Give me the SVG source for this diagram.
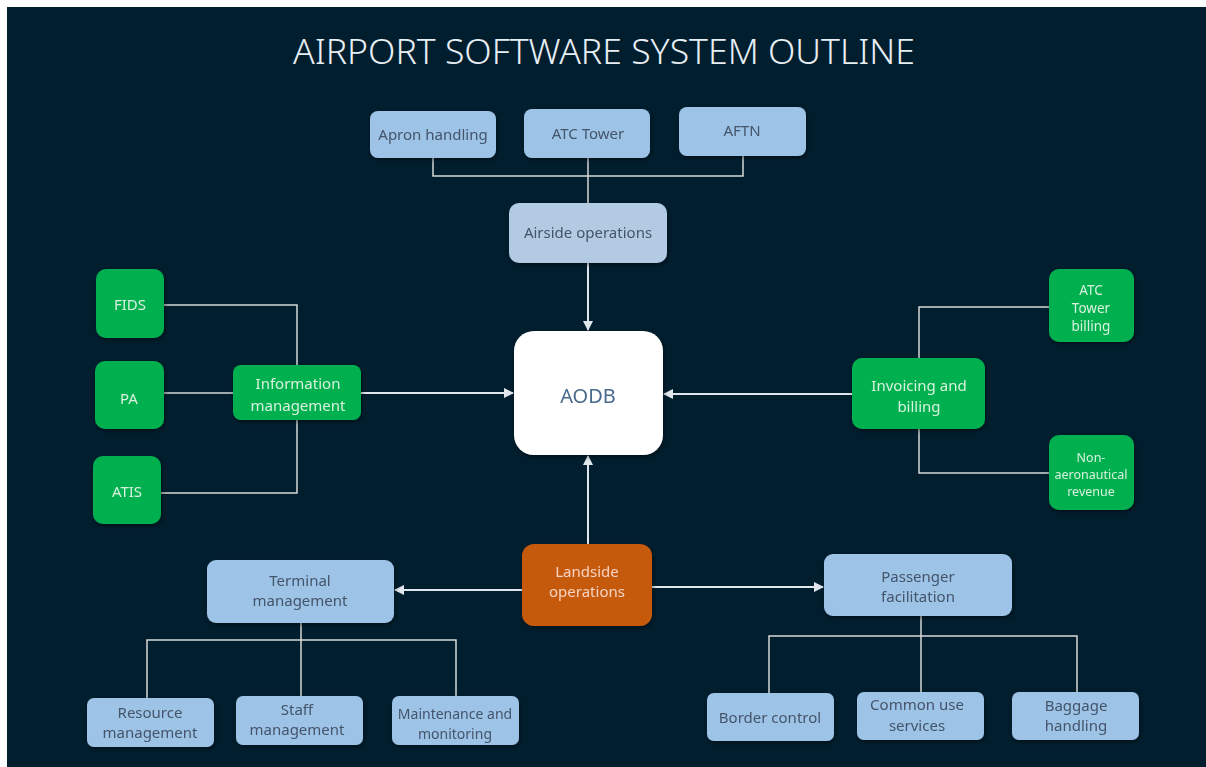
<svg xmlns="http://www.w3.org/2000/svg" width="1206" height="767" viewBox="0 0 1206 767">
<style>
.bg{fill:#011e2e}
.blue{fill:#9dc3e6}
.air{fill:#b3cbe2}
.green{fill:#00b050}
.orange{fill:#c55a11}
.white{fill:#ffffff}
text{font-family:"Noto Sans","Liberation Sans",sans-serif;text-anchor:middle;font-size:15px}
.tb{fill:#44546a}
.tg{fill:#d8f1de}
.to{fill:#f6d3c1}
.ta{fill:#4a6a8e;font-size:20px}
.title{fill:#e8eef4;font-size:34px;font-weight:300}
.ln{stroke:#d9d9d9;stroke-width:1.5;fill:none}
.ar{stroke:#e0e6ec;stroke-width:2;fill:none;marker-end:url(#ah)}
.n{filter:url(#sh)}
</style>
<defs>
<marker id="ah" viewBox="0 0 10 10" refX="9" refY="5" markerWidth="5" markerHeight="5" orient="auto" markerUnits="strokeWidth">
<path d="M0,0 L10,5 L0,10 z" fill="#e0e6ec"/>
</marker>
<filter id="sh" x="-10%" y="-10%" width="125%" height="130%">
<feDropShadow dx="1" dy="2" stdDeviation="2" flood-color="#000" flood-opacity="0.45"/>
</filter>
</defs>
<rect x="0" y="0" width="1206" height="767" fill="#ffffff"/>
<rect class="bg" x="7" y="7" width="1199" height="760"/>
<text class="title" x="604" y="64" textLength="622" lengthAdjust="spacingAndGlyphs">AIRPORT SOFTWARE SYSTEM OUTLINE</text>

<g id="connectors">
<path class="ln" d="M433,158 V176 H743 V156"/>
<path class="ln" d="M588,158 V203"/>
<path class="ar" d="M588,263 V330"/>
<path class="ln" d="M164,305 H297 V365"/>
<path class="ln" d="M164,393 H233"/>
<path class="ln" d="M161,493 H297 V420"/>
<path class="ar" d="M361,393 H513"/>
<path class="ar" d="M852,394 H664"/>
<path class="ln" d="M1049,307 H919 V358"/>
<path class="ln" d="M919,429 V473 H1049"/>
<path class="ar" d="M588,544 V456"/>
<path class="ar" d="M522,590 H395"/>
<path class="ar" d="M652,587 H823"/>
<path class="ln" d="M301,623 V697"/>
<path class="ln" d="M147,698 V640 H456 V696"/>
<path class="ln" d="M921,616 V692"/>
<path class="ln" d="M769,693 V636 H1077 V692"/>
</g>

<g id="apron" class="n"><rect class="blue" x="370" y="111" width="126" height="47" rx="8"/><text class="tb" x="433" y="140">Apron handling</text></g>
<g id="atc-tower" class="n"><rect class="blue" x="524" y="109" width="126" height="49" rx="8"/><text class="tb" x="588" y="139">ATC Tower</text></g>
<g id="aftn" class="n"><rect class="blue" x="679" y="107" width="127" height="49" rx="8"/><text class="tb" x="742" y="136">AFTN</text></g>
<g id="airside" class="n"><rect class="air" x="509" y="203" width="158" height="60" rx="10"/><text class="tb" x="588" y="238">Airside operations</text></g>
<g id="aodb" class="n"><rect class="white" x="514" y="331" width="149" height="124" rx="20"/><text class="ta" x="588" y="403">AODB</text></g>

<g id="fids" class="n"><rect class="green" x="96" y="269" width="68" height="69" rx="10"/><text class="tg" x="130" y="310">FIDS</text></g>
<g id="pa" class="n"><rect class="green" x="95" y="361" width="69" height="68" rx="10"/><text class="tg" x="129" y="404">PA</text></g>
<g id="atis" class="n"><rect class="green" x="93" y="456" width="68" height="68" rx="10"/><text class="tg" x="127" y="497">ATIS</text></g>
<g id="info" class="n"><rect class="green" x="233" y="365" width="128" height="55" rx="8"/><text class="tg" x="298" y="389">Information</text><text class="tg" x="298" y="411">management</text></g>

<g id="invoicing" class="n"><rect class="green" x="852" y="358" width="133" height="71" rx="10"/><text class="tg" x="919" y="391">Invoicing and</text><text class="tg" x="919" y="412">billing</text></g>
<g id="atc-billing" class="n"><rect class="green" x="1049" y="269" width="85" height="73" rx="10"/><text class="tg" x="1091" y="295" style="font-size:13.5px">ATC</text><text class="tg" x="1091" y="313" style="font-size:13.5px">Tower</text><text class="tg" x="1091" y="331" style="font-size:13.5px">billing</text></g>
<g id="non-aero" class="n"><rect class="green" x="1049" y="435" width="85" height="75" rx="10"/><text class="tg" x="1091" y="462" style="font-size:12.5px">Non-</text><text class="tg" x="1091" y="479" style="font-size:12.5px">aeronautical</text><text class="tg" x="1091" y="496" style="font-size:12.5px">revenue</text></g>

<g id="landside" class="n"><rect class="orange" x="522" y="544" width="130" height="82" rx="12"/><text class="to" x="587" y="577">Landside</text><text class="to" x="587" y="597">operations</text></g>

<g id="terminal" class="n"><rect class="blue" x="207" y="560" width="187" height="63" rx="9"/><text class="tb" x="300" y="586">Terminal</text><text class="tb" x="300" y="606">management</text></g>
<g id="resource" class="n"><rect class="blue" x="87" y="698" width="127" height="49" rx="7"/><text class="tb" x="150" y="718">Resource</text><text class="tb" x="150" y="738">management</text></g>
<g id="staff" class="n"><rect class="blue" x="236" y="696" width="127" height="49" rx="7"/><text class="tb" x="297" y="715">Staff</text><text class="tb" x="297" y="735">management</text></g>
<g id="maintenance" class="n"><rect class="blue" x="392" y="696" width="127" height="49" rx="7"/><text class="tb" x="455" y="719" style="font-size:14px">Maintenance and</text><text class="tb" x="455" y="739" style="font-size:14px">monitoring</text></g>

<g id="passenger" class="n"><rect class="blue" x="824" y="554" width="188" height="62" rx="9"/><text class="tb" x="918" y="582">Passenger</text><text class="tb" x="918" y="602">facilitation</text></g>
<g id="border" class="n"><rect class="blue" x="707" y="693" width="127" height="48" rx="7"/><text class="tb" x="770" y="723">Border control</text></g>
<g id="common" class="n"><rect class="blue" x="857" y="692" width="127" height="48" rx="7"/><text class="tb" x="917" y="710">Common use</text><text class="tb" x="917" y="731">services</text></g>
<g id="baggage" class="n"><rect class="blue" x="1012" y="692" width="127" height="48" rx="7"/><text class="tb" x="1076" y="711">Baggage</text><text class="tb" x="1076" y="731">handling</text></g>
</svg>
